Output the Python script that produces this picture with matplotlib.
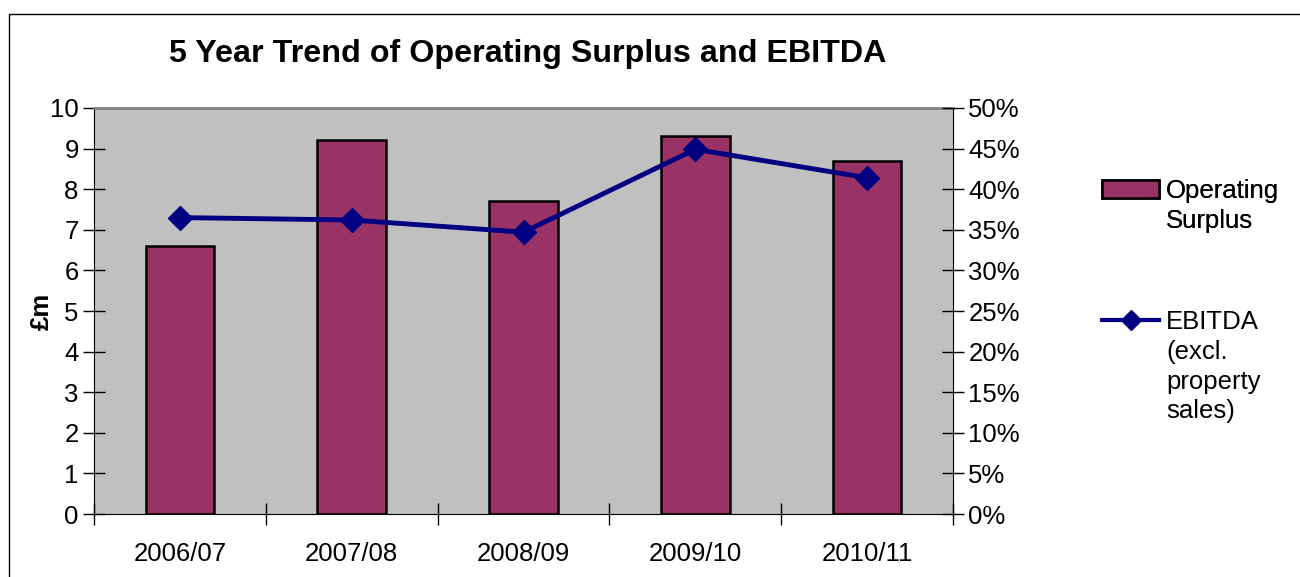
import numpy as np
import matplotlib
matplotlib.use("Agg")
import matplotlib.pyplot as plt
from matplotlib.lines import Line2D
from matplotlib.patches import Patch, Rectangle
from matplotlib.ticker import FuncFormatter

plt.rcParams["font.family"] = ["Liberation Sans", "DejaVu Sans"]

years = ["2006/07", "2007/08", "2008/09", "2009/10", "2010/11"]
surplus = [6.6, 9.2, 7.7, 9.3, 8.7]          # £m
ebitda = [0.365, 0.362, 0.347, 0.449, 0.414]  # share

BAR_C = "#993366"
LINE_C = "#000080"
FS = 18.5

fig = plt.figure(figsize=(13, 5.77), dpi=100)
ax = fig.add_axes([0.0723, 0.109, 0.6608, 0.704])
ax.set_facecolor("#C0C0C0")

x = np.arange(len(years))
ax.bar(x, surplus, width=0.4, color=BAR_C, edgecolor="black", linewidth=1.8, zorder=2)
ax.set_xlim(-0.5, len(years) - 0.5)
ax.set_ylim(0, 10)
ax.set_yticks(range(0, 11))
ax.set_xticks(x)
ax.set_xticklabels(years, fontsize=FS)
ax.set_xticks(np.arange(-0.5, len(years)), minor=True)
ax.tick_params(axis="x", which="major", length=0, pad=20)
ax.tick_params(axis="x", which="minor", direction="inout", length=16, width=1)
ax.tick_params(axis="y", direction="inout", length=16, width=1, labelsize=FS, pad=3)
ax.set_ylabel("£m", fontsize=FS, fontweight="bold", labelpad=-3)
ax.spines["top"].set_color("#808080")
ax.spines["top"].set_linewidth(2)
ax.spines["right"].set_visible(False)

ax2 = ax.twinx()
ax2.plot(x, ebitda, color=LINE_C, lw=3.5, marker="D", markersize=12, zorder=3)
ax2.set_ylim(0, 0.5)
ax2.set_yticks(np.arange(0, 0.51, 0.05))
ax2.yaxis.set_major_formatter(FuncFormatter(lambda v, p: f"{v*100:.0f}%"))
ax2.tick_params(axis="y", direction="inout", length=16, width=1, labelsize=FS, pad=3)
for s in ["top", "left", "bottom"]:
    ax2.spines[s].set_visible(False)

fig.text(0.406, 0.907, "5 Year Trend of Operating Surplus and EBITDA",
         ha="center", va="center", fontsize=23.2, fontweight="bold")

# legend: two blocks, handle aligned with first line of label
blank = Line2D([], [], color="none")
kw = dict(loc="upper left", frameon=False, fontsize=FS, handlelength=2.2,
          handletextpad=0.28, labelspacing=0.22, borderpad=0, borderaxespad=0)
leg1 = fig.legend([Patch(facecolor=BAR_C, edgecolor="black", linewidth=1.8), blank],
                  ["Operating", "Surplus"], bbox_to_anchor=(0.848, 0.689), **kw)
fig.add_artist(leg1)
fig.legend([Line2D([], [], color=LINE_C, lw=3, marker="D", markersize=10), blank, blank, blank],
           ["EBITDA", "(excl.", "property", "sales)"], bbox_to_anchor=(0.848, 0.462), **kw)

fig.add_artist(Rectangle((0.0069, -0.1), 1.2, 1.0757, transform=fig.transFigure,
                         fill=False, edgecolor="black", linewidth=1, clip_on=False))

fig.savefig("out.png", dpi=100)
